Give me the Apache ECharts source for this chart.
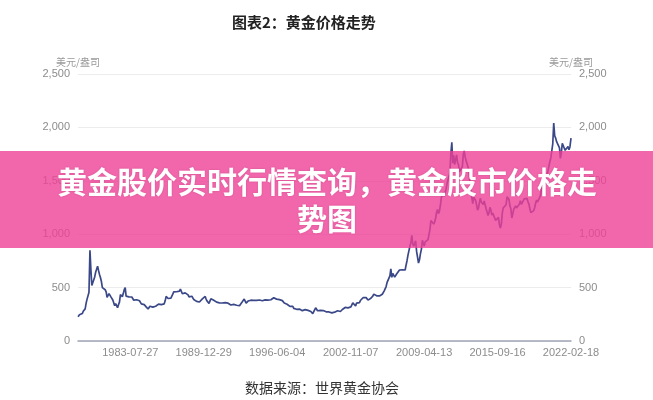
<!DOCTYPE html>
<html><head><meta charset="utf-8">
<script src="https://cdn.jsdelivr.net/npm/echarts@6/dist/echarts.min.js"></script>
<style>html,body{margin:0;padding:0;background:#fff}#c{width:653px;height:400px}</style>
</head><body><div id="c"></div>
<script>
const titleText = '图表2：黄金价格走势';
const sourceText = '数据来源：世界黄金协会';
const bannerText = '黄金股价实时行情查询，黄金股市价格走\n势图';
const unitName = '美元/盎司';
const yTicks = [0, 500, 1000, 1500, 2000, 2500];
const xLabelDates = ['1983-07-27','1989-12-29','1996-06-04','2002-11-07','2009-04-13','2015-09-16','2022-02-18'];
const xStart = '1978-12-29';
const xEnd = '2022-02-18';
const firstPoint = ['1978-12-29', 226];
const lastPoint = ['2022-02-18', 1900];
const firstYear = 1979;
// monthly gold price (USD/oz), Jan 1979 .. Jan 2022
const monthly = [
 227,245,242,239,257,279,295,301,355,392,392,456,
 850,665,520,517,514,600,644,627,700,661,623,594,
 557,500,499,496,480,461,409,410,443,437,413,410,
 384,374,330,350,334,312,339,364,435,422,414,444,
 481,500,420,432,438,413,423,416,412,394,382,388,
 370,386,394,381,377,378,348,348,341,340,341,320,
 303,299,304,325,316,317,317,330,324,326,325,322,
 345,339,346,340,342,343,348,376,418,423,398,391,
 408,401,409,438,460,450,450,461,460,465,467,486,
 477,442,444,452,451,452,437,432,413,406,420,419,
 404,388,390,384,371,367,375,365,362,367,394,409,
 410,417,393,374,369,352,362,395,389,380,381,378,
 384,364,363,358,357,367,368,356,349,358,360,361,
 354,354,345,338,337,341,353,343,345,344,335,334,
 329,330,330,342,367,372,393,378,355,364,374,383,
 387,382,384,378,381,386,385,380,391,389,384,379,
 379,377,382,391,385,387,386,383,383,383,386,387,
 400,405,396,393,392,385,383,387,383,381,378,369,
 355,347,352,344,344,341,324,324,323,325,306,289,
 289,297,296,308,299,292,293,284,289,296,294,291,
 287,287,286,282,276,261,256,257,265,311,293,283,
 284,300,286,280,275,285,282,275,273,270,266,272,
 265,262,263,261,272,270,268,273,283,283,276,276,
 282,295,294,302,314,321,314,310,319,317,319,333,
 357,359,340,328,355,356,351,360,379,379,389,407,
 414,405,406,404,383,392,398,400,406,420,439,442,
 424,423,434,429,422,431,424,438,456,470,476,510,
 549,555,557,610,676,596,633,632,598,585,627,629,
 631,665,655,679,667,655,665,665,712,754,806,803,
 889,922,990,909,888,889,939,839,829,730,760,816,
 858,943,925,890,928,945,934,949,996,1043,1127,1135,
 1118,1095,1114,1149,1205,1232,1193,1215,1271,1343,1370,1391,
 1356,1372,1424,1473,1510,1528,1572,1756,1860,1665,1739,1652,
 1656,1742,1673,1650,1585,1596,1594,1630,1745,1780,1721,1688,
 1670,1628,1592,1487,1414,1343,1286,1347,1349,1316,1275,1225,
 1244,1300,1336,1299,1287,1279,1311,1296,1238,1222,1176,1200,
 1251,1227,1179,1198,1199,1181,1130,1117,1125,1157,1086,1058,
 1097,1199,1246,1242,1260,1276,1350,1340,1326,1266,1236,1152,
 1192,1234,1231,1266,1246,1260,1236,1283,1314,1280,1283,1265,
 1331,1331,1325,1335,1303,1282,1238,1202,1198,1215,1221,1250,
 1291,1320,1300,1286,1284,1359,1413,1500,1510,1495,1471,1479,
 1560,1597,1592,1681,1716,1732,1846,2040,1922,1900,1866,1858,
 1867,1808,1710,1760,1850,1834,1807,1785,1776,1777,1821,1790,
 1817
];

const ts = d => Date.UTC(+d.slice(0,4), +d.slice(5,7) - 1, +d.slice(8,10));
const fmt = v => new Date(v).toISOString().slice(0, 10);

const seriesData = [[ts(firstPoint[0]), firstPoint[1]]];
monthly.forEach((v, i) => {
  const y = firstYear + Math.floor(i / 12);
  const m = (i % 12) + 1;
  seriesData.push([ts(y + '-' + String(m).padStart(2, '0') + '-15'), v]);
});
seriesData.push([ts(lastPoint[0]), lastPoint[1]]);

const chart = echarts.init(document.getElementById('c'));
const axisFont = 'Liberation Sans';
const yAxisCommon = {
  type: 'value', min: 0, max: 2500, interval: 500,
  name: unitName, nameLocation: 'end', nameGap: 7,
  nameTextStyle: { color: '#999', fontSize: 10, fontFamily: 'Noto Sans CJK SC' },
  axisLine: { show: false }, axisTick: { show: false },
  axisLabel: { color: '#8c8c8c', fontSize: 11, fontFamily: axisFont,
    formatter: v => v.toLocaleString('en-US') }
};
chart.setOption({
  animation: false,
  title: [
    { text: titleText, left: 227, top: 10,
      textStyle: { fontSize: 15, fontWeight: 'bold', color: '#222', fontFamily: 'Noto Sans CJK SC' } },
    { text: sourceText, left: 240, top: 376,
      textStyle: { fontSize: 14, fontWeight: 'normal', color: '#333', fontFamily: 'Noto Sans CJK SC' } }
  ],
  grid: { left: 78, right: 82, top: 74, bottom: 59 },
  xAxis: {
    type: 'value', min: ts(xStart), max: ts(xEnd), scale: true,
    axisLine: { lineStyle: { color: '#a0a5b6', width: 1.5 } },
    axisTick: { show: false },
    splitLine: { show: false },
    axisLabel: {
      customValues: xLabelDates.map(ts),
      color: '#8c8c8c', fontSize: 11, fontFamily: axisFont, margin: 6,
      showMinLabel: true, showMaxLabel: true,
      formatter: v => fmt(v)
    }
  },
  yAxis: [
    Object.assign({}, yAxisCommon, { position: 'left',
      splitLine: { lineStyle: { color: '#ececec', width: 1 } } }),
    Object.assign({}, yAxisCommon, { position: 'right', splitLine: { show: false } })
  ],
  series: [{
    type: 'line', data: seriesData, showSymbol: false, symbol: 'none',
    lineStyle: { color: '#3b4888', width: 1.7 }, z: 2
  }],
  graphic: [
    { type: 'rect', left: 0, top: 151, z: 100,
      shape: { width: 653, height: 97 },
      style: { fill: 'rgba(239,64,151,0.8)' } },
    { type: 'text', z: 101, x: 327, y: 200,
      style: { text: bannerText, fill: '#fff', align: 'center', verticalAlign: 'middle',
        font: 'bold 30px "Noto Sans CJK SC"', lineHeight: 37,
        textShadowColor: 'rgba(120,0,60,0.25)', textShadowBlur: 2 } }
  ]
});
</script></body></html>
